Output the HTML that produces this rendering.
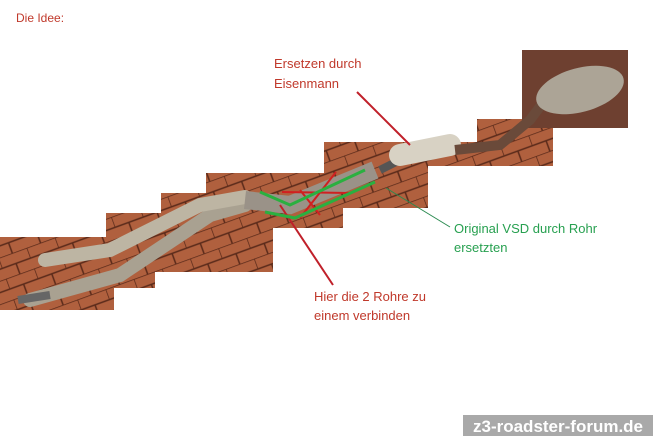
<!DOCTYPE html>
<html><head><meta charset="utf-8"><style>
html,body{margin:0;padding:0;background:#fff;width:660px;height:440px;overflow:hidden}
svg{display:block}
</style></head><body>
<svg width="660" height="440" viewBox="0 0 660 440" xmlns="http://www.w3.org/2000/svg">
<defs>
<pattern id="brick" width="30" height="22" patternUnits="userSpaceOnUse" patternTransform="rotate(-20)">
<rect width="30" height="22" fill="#b0603e"/>
<path d="M0 0H30M0 11H30M0 0V11M15 11V22" stroke="#5a2a1a" stroke-width="1.5" fill="none"/>
</pattern>
</defs>
<text x="16" y="22" font-family="Liberation Sans, sans-serif" font-size="12" fill="#c0392b">Die Idee:</text>
<polygon points="0,237 106,237 106,213 161,213 161,193 206,193 206,173 324,173 324,142 477,142 477,119 522,119 522,50 628,50 628,128 553,128 553,166 428,166 428,208 343,208 343,228 273,228 273,272 155,272 155,288 114,288 114,310 0,310" fill="url(#brick)"/>
<rect x="522" y="50" width="106" height="78" fill="#6e4030"/>
<!-- pipes -->
<path d="M30 300 L120 275 L210 215 L245 205" stroke="#a9a191" stroke-width="14" fill="none" stroke-linecap="round"/>
<path d="M45 260 L110 250 L200 205 L245 197" stroke="#bdb5a3" stroke-width="14" fill="none" stroke-linecap="round"/>
<path d="M18 300 L50 295" stroke="#666" stroke-width="8"/>
<path d="M245 200 L290 205 L375 170" stroke="#9a9288" stroke-width="18" fill="none"/>
<path d="M380 170 L400 160" stroke="#555" stroke-width="8"/>
<path d="M400 155 L450 145" stroke="#d8d2c4" stroke-width="22" fill="none" stroke-linecap="round"/>
<path d="M455 150 L500 145 L530 120 L545 100" stroke="#6a4a3a" stroke-width="10" fill="none"/>
<ellipse cx="580" cy="90" rx="45" ry="22" fill="#aca496" transform="rotate(-15 580 90)"/>
<text x="274" y="68" font-family="Liberation Sans, sans-serif" font-size="13" fill="#c0392b">Ersetzen durch</text>
<text x="274" y="88" font-family="Liberation Sans, sans-serif" font-size="13" fill="#c0392b">Eisenmann</text>
<line x1="357" y1="92" x2="410" y2="145" stroke="#c0202a" stroke-width="2"/>
<line x1="386" y1="188" x2="450" y2="227" stroke="#2a8a50" stroke-width="1"/>
<text x="454" y="233" font-family="Liberation Sans, sans-serif" font-size="13" fill="#27a050">Original VSD durch Rohr</text>
<text x="454" y="252" font-family="Liberation Sans, sans-serif" font-size="13" fill="#27a050">ersetzten</text>
<line x1="280" y1="205" x2="333" y2="285" stroke="#c0202a" stroke-width="2"/>
<text x="314" y="301" font-family="Liberation Sans, sans-serif" font-size="13" fill="#c0392b">Hier die 2 Rohre zu</text>
<text x="314" y="320" font-family="Liberation Sans, sans-serif" font-size="13" fill="#c0392b">einem verbinden</text>
<!-- marks -->
<g stroke="#d02020" stroke-width="2" fill="none">
<line x1="282" y1="192" x2="350" y2="193"/>
<line x1="300" y1="218" x2="336" y2="172"/>
<line x1="320" y1="215" x2="300" y2="190"/>
</g>
<g stroke="#2ab040" stroke-width="3" fill="none">
<path d="M260 192 L290 205 L365 170"/>
<path d="M265 212 L295 218 L375 182"/>
</g>
<rect x="463" y="415" width="190" height="21" fill="#a9a9a9"/>
<text x="558" y="432" text-anchor="middle" font-family="Liberation Sans, sans-serif" font-weight="bold" font-size="17" fill="#fff">z3-roadster-forum.de</text>
</svg>
</body></html>
